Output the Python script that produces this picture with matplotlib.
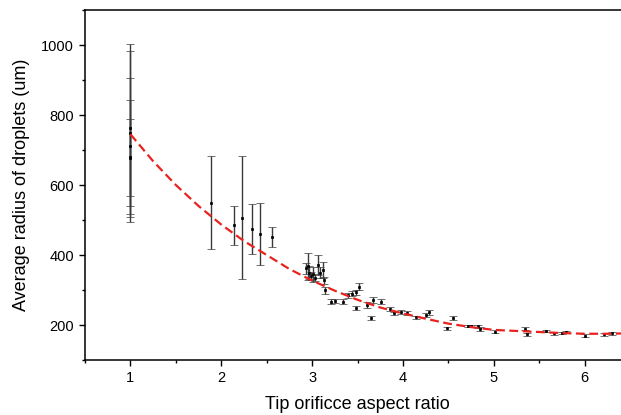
import numpy as np
import matplotlib
matplotlib.use('Agg')
import matplotlib.pyplot as plt
from matplotlib.ticker import MultipleLocator

plt.rcParams['font.family'] = ['Liberation Sans', 'DejaVu Sans']

# measured droplets: aspect ratio, mean radius, error
x_ratio = [1.0, 1.0, 1.0, 1.0, 1.0,
           1.89, 2.14, 2.23, 2.34, 2.43, 2.56,
           2.93, 2.95, 2.97, 2.99, 3.01, 3.03, 3.06, 3.09, 3.12, 3.13, 3.14,
           3.21, 3.25, 3.34, 3.40, 3.44, 3.48, 3.52, 3.48, 3.60, 3.65, 3.67,
           3.76, 3.86, 3.90, 3.98, 4.05, 4.14, 4.25, 4.29, 4.48, 4.55,
           4.72, 4.75, 4.83, 4.85, 5.01, 5.34, 5.37, 5.58, 5.66, 5.75, 5.79,
           6.00, 6.21, 6.30]
radius = [748, 762, 712, 676, 680,
          550, 485, 507, 475, 460, 451,
          362, 368, 350, 340, 345, 335, 372, 350, 358, 328, 300,
          267, 268, 267, 285, 290, 294, 310, 248, 257, 219, 271,
          267, 245, 233, 238, 235, 222, 229, 236, 191, 220,
          197, 197, 196, 188, 181, 190, 173, 183, 176, 177, 180,
          169, 174, 176]
radius_err = [254, 222, 194, 167, 110,
              134, 56, 176, 72, 88, 28,
              15, 38, 18, 12, 22, 10, 28, 15, 23, 10, 10,
              6, 5, 6, 7, 8, 7, 9, 5, 8, 6, 8,
              6, 6, 5, 6, 5, 4, 5, 6, 4, 5,
              4, 4, 4, 5, 4, 4, 5, 4, 4, 4, 4,
              4, 4, 4]

# fitted trend (red dashed)
fit_x = [1.0, 1.25, 1.5, 1.75, 2.0, 2.25, 2.5, 2.75, 3.0, 3.25, 3.5, 3.75,
         4.0, 4.25, 4.5, 4.75, 5.0, 5.25, 5.5, 5.75, 6.0, 6.25, 6.45]
fit_y = [745, 668, 600, 540, 487, 440, 400, 360, 327, 298, 272, 250,
         233, 218, 204, 194, 186, 183, 180, 177, 175, 175, 176]

fig = plt.figure(figsize=(6.21, 4.15), dpi=100)
ax = fig.add_axes([0.1369, 0.1325, 0.8776, 0.8434])

ax.plot(fit_x, fit_y, color='#e8231f', lw=1.6, linestyle=(0, (4.0, 2.0)), zorder=3)
ax.errorbar(x_ratio, radius, yerr=radius_err, fmt='s', ms=1.5, mew=0.5,
            color='black', ecolor='#3a3a3a', elinewidth=1.0, capsize=2.8,
            capthick=1.0, zorder=2)

ax.set_xlim(0.5, 6.5)
ax.set_ylim(100, 1100)
ax.xaxis.set_major_locator(MultipleLocator(1))
ax.xaxis.set_minor_locator(MultipleLocator(0.5))
ax.yaxis.set_major_locator(MultipleLocator(200))
ax.yaxis.set_minor_locator(MultipleLocator(100))
ax.set_yticks([200, 400, 600, 800, 1000])

ax.tick_params(which='major', direction='out', length=4.5, width=1, labelsize=10.5)
ax.tick_params(which='minor', direction='out', length=2.5, width=1)
ax.tick_params(top=False, right=False)
for s in ax.spines.values():
    s.set_linewidth(1.1)

ax.set_xlabel('Tip orificce aspect ratio', fontsize=13, labelpad=8)
ax.set_ylabel('Average radius of droplets (um)', fontsize=13, labelpad=8)

fig.savefig('out.png', dpi=100)
